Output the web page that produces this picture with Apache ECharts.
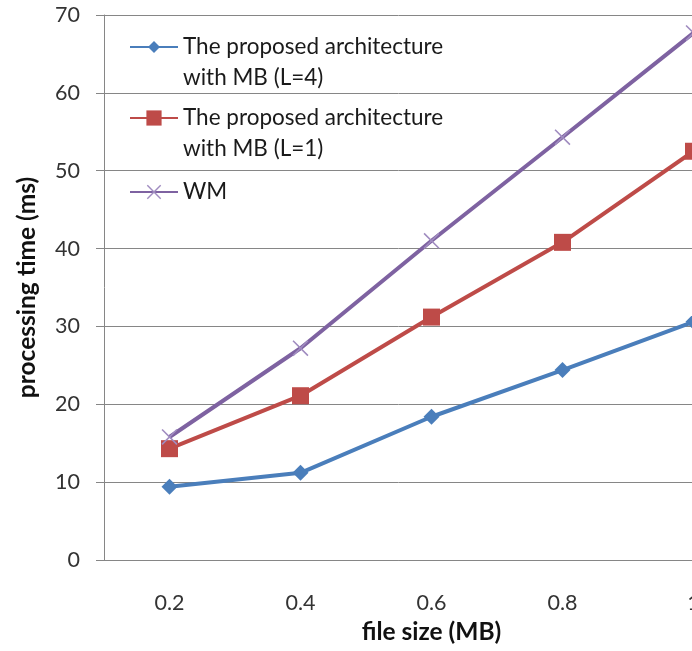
<!DOCTYPE html>
<html>
<head>
<meta charset="utf-8">
<script src="https://cdn.jsdelivr.net/npm/echarts@6/dist/echarts.min.js"></script>
<style>
html,body{margin:0;padding:0;background:#fff;}
#chart{width:692px;height:651px;}
</style>
</head>
<body>
<div id="chart"></div>
<script>
const categories = ['0.2', '0.4', '0.6', '0.8', '1'];
const seriesNames = [
  'The proposed architecture\nwith MB (L=4)',
  'The proposed architecture\nwith MB (L=1)',
  'WM'
];
const valuesL4 = [9.4, 11.2, 18.4, 24.4, 30.6];
const valuesL1 = [14.3, 21.1, 31.2, 40.8, 52.5];
const valuesWM = [15.8, 27.2, 41.0, 54.3, 67.7];
const yTicks = { min: 0, max: 70, interval: 10 };

const FONT = 'Lato';
const xPath = 'path://M0,0.7 L0.7,0 L10,9.3 L9.3,10 Z M9.3,0 L10,0.7 L0.7,10 L0,9.3 Z';

const chart = echarts.init(document.getElementById('chart'), null, { renderer: 'canvas' });

function legendFor(name, top, text, itemHeight) {
  return {
    show: true,
    orient: 'vertical',
    left: 129,
    top: top,
    padding: 0,
    itemWidth: 48,
    itemHeight: itemHeight,
    itemGap: 0,
    selectedMode: false,
    data: [name],
    formatter: function () { return text; },
    textStyle: { fontFamily: FONT, fontSize: 22.5, color: '#1a1a1a', lineHeight: 31 }
  };
}

const option = {
  backgroundColor: '#ffffff',
  animation: false,
  grid: { left: 104, top: 15, height: 545, width: 655, containLabel: false, outerBoundsMode: 'none' },
  legend: [
    legendFor(seriesNames[0], 0.5, '\n' + seriesNames[0], 15),
    legendFor(seriesNames[1], 71.5, '\n' + seriesNames[1], 19),
    legendFor(seriesNames[2], 176.5, seriesNames[2], 18)
  ],
  xAxis: {
    type: 'category',
    data: categories,
    boundaryGap: true,
    name: 'file size (MB)',
    nameLocation: 'middle',
    nameGap: 60,
    nameTextStyle: { fontFamily: FONT, fontSize: 24.5, fontWeight: 'bold', color: '#111' },
    axisLine: { show: true, lineStyle: { color: '#868686', width: 1 } },
    axisTick: { show: false },
    axisLabel: { fontFamily: FONT, fontSize: 21.5, color: '#333333', margin: 32 },
    splitLine: { show: false }
  },
  yAxis: {
    type: 'value',
    min: yTicks.min,
    max: yTicks.max,
    interval: yTicks.interval,
    name: 'processing time (ms)',
    nameLocation: 'middle',
    nameGap: 64,
    nameTextStyle: { fontFamily: FONT, fontSize: 24.5, fontWeight: 'bold', color: '#111' },
    axisLine: { show: true, lineStyle: { color: '#868686', width: 1 } },
    axisTick: { show: true, inside: false, length: 8, lineStyle: { color: '#868686' } },
    axisLabel: { fontFamily: FONT, fontSize: 21.5, color: '#333333', margin: 24 },
    splitLine: { show: true, lineStyle: { color: '#868686', width: 1 } }
  },
  series: [
    {
      name: seriesNames[0],
      type: 'line',
      data: valuesL4,
      symbol: 'diamond',
      symbolSize: 16,
      lineStyle: { color: '#4A7EBB', width: 4 },
      itemStyle: { color: '#4A7EBB', borderWidth: 0 },
      emphasis: { disabled: true }
    },
    {
      name: seriesNames[1],
      type: 'line',
      data: valuesL1,
      symbol: 'rect',
      symbolSize: 17,
      lineStyle: { color: '#BE4B48', width: 4 },
      itemStyle: { color: '#BE4B48', borderWidth: 0 },
      emphasis: { disabled: true }
    },
    {
      name: seriesNames[2],
      type: 'line',
      data: valuesWM,
      symbol: xPath,
      symbolSize: 16,
      lineStyle: { color: '#7E62A1', width: 4 },
      itemStyle: { color: '#A08CC0', borderWidth: 0 },
      emphasis: { disabled: true }
    }
  ]
};
chart.setOption(option);
</script>
</body>
</html>
